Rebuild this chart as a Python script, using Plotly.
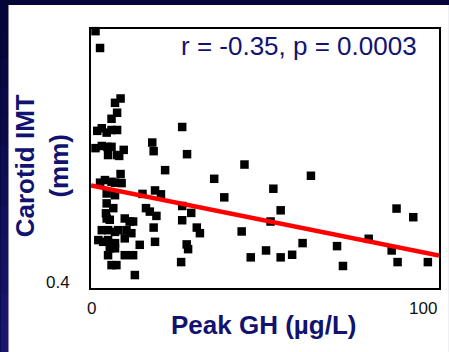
import plotly.graph_objects as go

# Peak GH (µg/L) vs carotid IMT (mm), one entry per subject
peak_gh = [
    1.3, 2.6, 8.5, 6.9, 7.5, 5.9, 1.8, 3.1, 4.5, 5.9,
    7.5, 1.3, 3.1, 4.7, 5.9, 4.9, 7.5, 9.4, 8.1, 8.5,
    2.6, 4.0, 5.9, 6.9, 8.8, 6.9, 4.5, 4.5, 4.3, 4.5,
    5.4, 6.4, 3.1, 4.9, 6.9, 7.8, 2.1, 3.5, 4.9, 6.9,
    5.4, 6.9, 4.9, 5.9, 7.3, 9.7, 12.1, 9.7, 11.1, 12.1,
    10.2, 11.6, 9.7, 12.6, 14.0, 14.8, 26.2, 17.6, 18.0, 27.6,
    44.1, 21.3, 35.4, 38.3, 18.4, 20.1, 26.2, 28.8, 15.8, 16.9,
    18.8, 26.2, 18.0, 30.4, 31.3, 43.3, 18.4, 27.5, 27.9, 25.9,
    45.9, 50.3, 52.4, 54.5, 51.6, 54.5, 57.8, 60.8, 63.2, 70.7,
    72.4, 79.8, 87.8, 92.6, 86.4, 88.1, 96.8,
]
carotid_imt = [
    0.995, 0.956, 0.839, 0.829, 0.806, 0.792, 0.764, 0.770, 0.760, 0.766,
    0.766, 0.724, 0.729, 0.727, 0.727, 0.708, 0.708, 0.720, 0.706, 0.664,
    0.644, 0.650, 0.646, 0.644, 0.643, 0.615, 0.619, 0.596, 0.573, 0.561,
    0.558, 0.585, 0.534, 0.534, 0.530, 0.534, 0.511, 0.507, 0.511, 0.504,
    0.492, 0.492, 0.476, 0.453, 0.453, 0.476, 0.476, 0.561, 0.554, 0.554,
    0.534, 0.527, 0.515, 0.430, 0.500, 0.618, 0.773, 0.737, 0.717, 0.710,
    0.686, 0.673, 0.653, 0.610, 0.626, 0.617, 0.590, 0.574, 0.585, 0.577,
    0.567, 0.557, 0.540, 0.540, 0.527, 0.531, 0.507, 0.501, 0.490, 0.460,
    0.471, 0.487, 0.630, 0.580, 0.554, 0.471, 0.477, 0.504, 0.660, 0.497,
    0.451, 0.514, 0.584, 0.564, 0.487, 0.460, 0.460,
]

# Least-squares fit line endpoints
fit_gh = [0, 100]
fit_imt = [0.6375, 0.4753]

x_range = [0, 100]
y_range = [0.4, 1.0]
x_tick_labels = ["0", "100"]
y_tick_labels = ["0.4"]
stats_text = "r = -0.35, p = 0.0003"

W, H = 449, 352
L, R, T, B = 91, 8, 29, 64
PW, PH = W - L - R, H - T - B

NAVY = "#121270"
FONT = "Arial, Liberation Sans, sans-serif"


def px_x(px):
    return (px - L) / PW


def px_y(py):
    return (H - B - py) / PH


fig = go.Figure()

fig.add_trace(go.Scatter(
    x=peak_gh, y=carotid_imt, mode="markers",
    marker=dict(symbol="square", size=8.5, color="#000000", line=dict(width=0)),
    showlegend=False, cliponaxis=False,
))
fig.add_trace(go.Scatter(
    x=fit_gh, y=fit_imt, mode="lines",
    line=dict(color="#ff0000", width=4.5),
    hoverinfo="skip", showlegend=False, cliponaxis=False,
))

shapes = []
# dark slide frame: left strip shading from deep navy to a brighter blue
n_steps = 12
for i in range(n_steps):
    t = i / (n_steps - 1)
    r = int(5 + t * 18)
    g = int(5 + t * 18)
    b = int(56 + t * 56)
    y_top = H * i / n_steps
    y_bot = H * (i + 1) / n_steps
    shapes.append(dict(
        type="rect", xref="paper", yref="paper", layer="below",
        x0=px_x(0), x1=px_x(8), y0=px_y(y_bot + 1), y1=px_y(y_top),
        fillcolor=f"rgb({r},{g},{b})", line=dict(width=0),
    ))
# white content panel
shapes.append(dict(
    type="rect", xref="paper", yref="paper", layer="below",
    x0=px_x(8), x1=px_x(W + 2), y0=px_y(H + 2), y1=px_y(5),
    fillcolor="#ffffff", line=dict(width=0),
))

annotations = [
    dict(text=stats_text, x=px_x(300), y=px_y(46), xref="paper", yref="paper",
         showarrow=False, xanchor="center", yanchor="middle",
         font=dict(family=FONT, size=26, color=NAVY)),
    dict(text="<b>Carotid IMT</b><br><b>(mm)</b>", x=px_x(42), y=px_y(166),
         xref="paper", yref="paper", textangle=-90, showarrow=False,
         xanchor="center", yanchor="middle",
         font=dict(family=FONT, size=26, color=NAVY)),
    dict(text="<b>Peak GH (µg/L)</b>", x=px_x(264), y=px_y(325),
         xref="paper", yref="paper", showarrow=False,
         xanchor="center", yanchor="middle",
         font=dict(family=FONT, size=26, color=NAVY)),
    dict(text=x_tick_labels[0], x=x_range[0], y=px_y(308), xref="x", yref="paper",
         showarrow=False, xanchor="center", yanchor="middle",
         font=dict(family=FONT, size=17, color="#111111")),
    dict(text=x_tick_labels[1], x=px_x(441), y=px_y(308), xref="paper", yref="paper",
         showarrow=False, xanchor="right", yanchor="middle",
         font=dict(family=FONT, size=17, color="#111111")),
    dict(text=y_tick_labels[0], x=px_x(72), y=px_y(282), xref="paper", yref="paper",
         showarrow=False, xanchor="right", yanchor="middle",
         font=dict(family=FONT, size=17, color="#111111")),
]

fig.update_layout(
    width=W, height=H,
    margin=dict(l=L, r=R, t=T, b=B, pad=0),
    paper_bgcolor="#05053a",
    plot_bgcolor="#ffffff",
    shapes=shapes,
    annotations=annotations,
    xaxis=dict(range=x_range, showgrid=False, zeroline=False, showticklabels=False,
               showline=True, linecolor="#000000", linewidth=1.5, mirror=True,
               ticks="", fixedrange=True),
    yaxis=dict(range=y_range, showgrid=False, zeroline=False, showticklabels=False,
               showline=True, linecolor="#000000", linewidth=1.5, mirror=True,
               ticks="", fixedrange=True),
    font=dict(family=FONT),
    showlegend=False,
)

fig.write_html("out.html")
